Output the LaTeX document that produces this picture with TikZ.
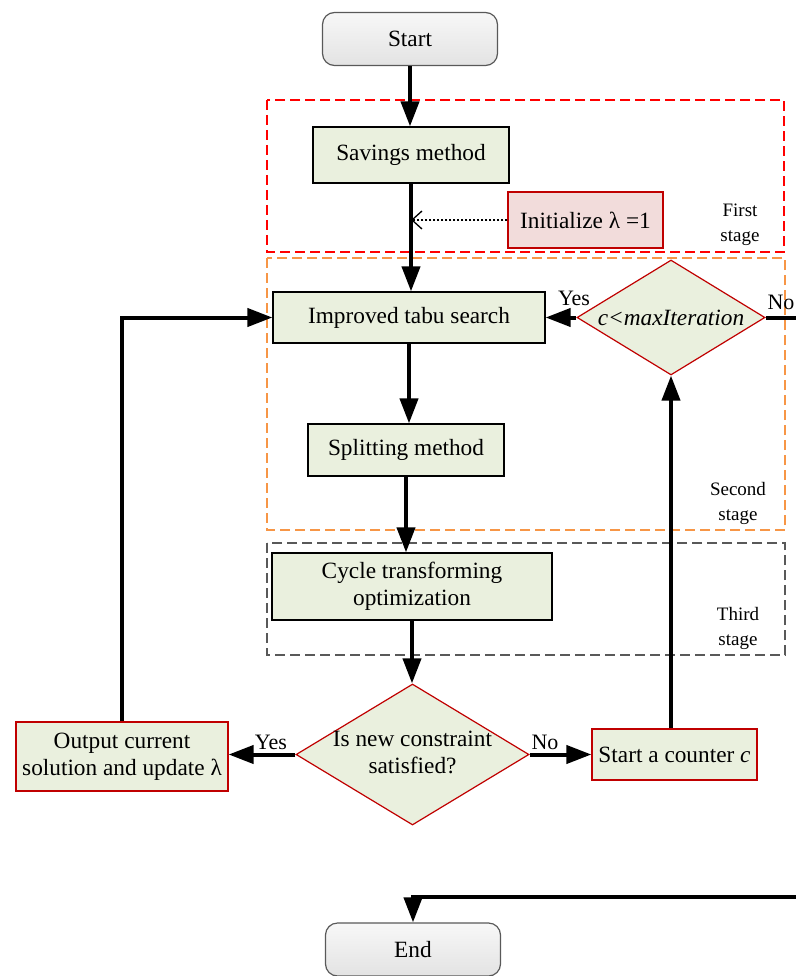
\documentclass[tikz,border=0pt]{standalone}
\usepackage{fontspec}
\setmainfont{Liberation Serif}
\usetikzlibrary{arrows.meta,shapes.geometric}
\definecolor{procfill}{HTML}{EAF0DE}
\definecolor{initfill}{HTML}{F2DCDB}
\definecolor{darkred}{HTML}{C00000}
\definecolor{stageorange}{HTML}{F79646}
\definecolor{stagegray}{HTML}{595959}
\newcommand\bigtxt{\fontsize{23.3}{27}\selectfont}
\newcommand\smalltxt{\fontsize{19}{25}\selectfont}
\newcommand\lbltxt{\fontsize{22}{26}\selectfont}
\begin{document}
\begin{tikzpicture}[x=1pt,y=-1pt,
  proc/.style={draw=black, line width=1.2pt, fill=procfill, inner sep=0pt, align=center, font=\bigtxt},
  redproc/.style={proc, draw=darkred},
  term/.style={draw=stagegray, line width=1.2pt, rounded corners=12pt, top color=gray!6, bottom color=gray!22, minimum width=175pt, minimum height=53pt, inner sep=0pt, font=\bigtxt},
  dia/.style={diamond, draw=darkred, line width=1.2pt, fill=procfill, inner sep=0pt, font=\bigtxt},
  arr/.style={line width=4pt, -{Triangle[length=25pt,width=18pt]}},
  dotarr/.style={line width=1.3pt, dash pattern=on 2pt off 2pt, -{Straight Barb[length=10pt,width=18pt]}},
  stagebox/.style={dash pattern=on 10pt off 5pt, line width=1.3pt},
  stagelbl/.style={align=center, font=\smalltxt, inner sep=0pt},
  lbl/.style={font=\lbltxt, inner sep=0pt}]
\useasboundingbox (0,0) rectangle (795,976);
% stage boxes
\draw[stagebox, draw=red] (267,100) rectangle (784,252);
\draw[stagebox, draw=stageorange] (267,258) rectangle (785,530);
\draw[stagebox, draw=stagegray] (267,543) rectangle (785,655);
\node[stagelbl] (s1) at (740,225) {First\\stage};
\node[stagelbl] (s2) at (738,503) {Second\\stage};
\node[stagelbl] (s3) at (738,628) {Third\\stage};
% nodes
\node[term] (start) at (410,39) {Start};
\node[proc, minimum width=196pt, minimum height=56pt] (savings) at (411,155) {Savings method};
\node[redproc, fill=initfill, minimum width=155pt, minimum height=56pt] (init) at (585.5,220) {Initialize λ =1};
\node[proc, minimum width=272pt, minimum height=51pt] (improved) at (409,317.5) {Improved tabu search};
\node[dia, minimum width=188pt, minimum height=115pt] (cmax) at (671,317.5) {\makebox[0pt]{\textit{c<maxIteration}}};
\node[proc, minimum width=196pt, minimum height=52pt] (split) at (406,450) {Splitting method};
\node[proc, minimum width=280pt, minimum height=67pt] (cycle) at (412,586.5) {Cycle transforming\\optimization};
\node[dia, minimum width=233pt, minimum height=141pt] (check) at (412.5,754.5) {\makebox[0pt]{\begin{tabular}{@{}c@{}}Is new constraint\\satisfied?\end{tabular}}};
\node[redproc, minimum width=212pt, minimum height=69pt] (output) at (122,756.5) {Output current\\solution and update λ};
\node[redproc, minimum width=165pt, minimum height=51pt] (counter) at (674.5,754.5) {Start a counter \textit{c}};
\node[term] (end) at (413,949.5) {End};
% labels
\node[lbl] (yes1) at (574,298) {Yes};
\node[lbl] (no1) at (781,302) {No};
\node[lbl] (yes2) at (271,742) {Yes};
\node[lbl] (no2) at (545,742) {No};
% connectors
\draw[arr] (start.south) -- (start.south |- savings.north);
\draw[arr] (savings.south) -- (savings.south |- improved.north);
\draw[arr] (improved.south) -- (improved.south |- split.north);
\draw[arr] (split.south) -- (split.south |- cycle.north);
\draw[arr] (cycle.south) -- (cycle.south |- check.north);
\draw[dotarr] (init.west) -- (savings.south |- init.west);
\draw[arr] (cmax.west) -- (improved.east);
\draw[arr] (check.west) -- (check.west -| output.east);
\draw[arr] (check.east) -- (check.east -| counter.west);
\draw[arr] (counter.north -| cmax.south) -- (cmax.south);
\draw[arr] (output.north) |- (improved.west);
\coordinate (r1) at (805,317.5);
\coordinate (r2) at (805,897);
\draw[arr] (cmax.east) -- (r1) -- (r2) -| (end.north);
\end{tikzpicture}
\end{document}
